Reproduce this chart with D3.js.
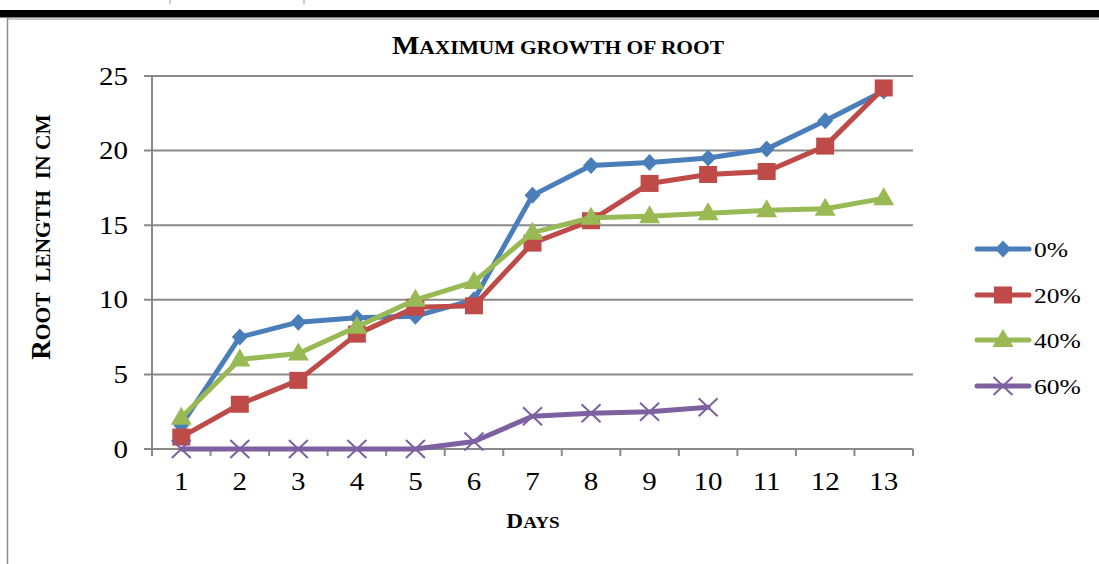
<!DOCTYPE html>
<html>
<head>
<meta charset="utf-8">
<script src="https://cdn.jsdelivr.net/npm/d3@7/dist/d3.min.js"></script>
<style>
  html, body { margin: 0; padding: 0; background: #fff; }
  svg { display: block; }
  text { font-family: "Liberation Serif", "Times New Roman", serif; fill: #000; white-space: pre; }
</style>
</head>
<body>
<svg id="chart" width="1099" height="564"></svg>
<script>
// Root length (cm) per day for each treatment level
const days = [1, 2, 3, 4, 5, 6, 7, 8, 9, 10, 11, 12, 13];
const seriesNames = ["0%", "20%", "40%", "60%"];
const values0 = [1.6, 7.5, 8.5, 8.8, 8.9, 10.0, 17.0, 19.0, 19.2, 19.5, 20.1, 22.0, 24.0];
const values20 = [0.8, 3.0, 4.6, 7.7, 9.5, 9.6, 13.8, 15.3, 17.8, 18.4, 18.6, 20.3, 24.2];
const values40 = [2.1, 6.0, 6.4, 8.2, 10.0, 11.2, 14.5, 15.5, 15.6, 15.8, 16.0, 16.1, 16.8];
const values60 = [0, 0, 0, 0, 0, 0.5, 2.2, 2.4, 2.5, 2.8, null, null, null];
const yTicks = [0, 5, 10, 15, 20, 25];

const lineColors = ["#4a7ebb", "#be4b48", "#98b954", "#7d60a0"];
const markerShapes = ["diamond", "square", "triangle", "cross"];
const allValues = [values0, values20, values40, values60];

const svg = d3.select("#chart");
const sx = 1.16; // horizontal text stretch

const x = d3.scaleBand().domain(days).range([152, 913]);
const y = d3.scaleLinear().domain([0, 25]).range([449, 76]);
const gridColor = "#898989";

// page decorations: header rule and chart frame
svg.append("rect").attr("x", 0).attr("y", 10).attr("width", 1099).attr("height", 7.5).attr("fill", "#000");
svg.append("line").attr("x1", 7.5).attr("x2", 7.5).attr("y1", 18).attr("y2", 564)
  .attr("stroke", "#8c8c8c").attr("stroke-width", 1.5);
svg.append("line").attr("x1", 7).attr("x2", 1099).attr("y1", 19).attr("y2", 19)
  .attr("stroke", "#8c8c8c").attr("stroke-width", 1);
[170, 304].forEach(px => svg.append("line").attr("x1", px).attr("x2", px).attr("y1", 0).attr("y2", 4)
  .attr("stroke", "#999").attr("stroke-width", 1));

// gridlines (with tick extensions left of the axis)
svg.append("g").selectAll("line").data(yTicks).join("line")
  .attr("x1", 144).attr("x2", 913)
  .attr("y1", d => y(d)).attr("y2", d => y(d))
  .attr("stroke", gridColor).attr("stroke-width", 2);

// y axis line
svg.append("line").attr("x1", 152).attr("x2", 152).attr("y1", y(25)).attr("y2", y(0) + 1)
  .attr("stroke", gridColor).attr("stroke-width", 2);

// x axis ticks at category boundaries
const bounds = days.map(d => x(d)).concat([x(days[days.length - 1]) + x.bandwidth()]);
svg.append("g").selectAll("line").data(bounds).join("line")
  .attr("x1", d => d).attr("x2", d => d).attr("y1", 449).attr("y2", 456)
  .attr("stroke", gridColor).attr("stroke-width", 2);

// stretched text helper
function stretchedText(g, tx, ty, anchor, size, stretch, rotate) {
  return g.append("text")
    .attr("transform", `translate(${tx},${ty}) scale(${stretch},1)` + (rotate ? ` rotate(${rotate})` : ""))
    .attr("text-anchor", anchor)
    .style("font-size", size + "px");
}

// y tick labels
yTicks.forEach(v => {
  stretchedText(svg, 128, y(v) + 8.5, "end", 25, sx).text(v);
});
// x tick labels
days.forEach(d => {
  stretchedText(svg, x(d) + x.bandwidth() / 2, 490, "middle", 25, sx).text(d);
});

// titles in small capitals
const title = stretchedText(svg, 558, 54, "middle", 25, sx).style("font-weight", "bold");
title.append("tspan").style("font-size", "25px").text("M");
title.append("tspan").style("font-size", "18.5px").text("AXIMUM GROWTH OF ROOT");

const yLabel = stretchedText(svg, 50, 237, "middle", 27, 1, -90).style("font-weight", "bold");
yLabel.append("tspan").style("font-size", "27px").text("R");
yLabel.append("tspan").style("font-size", "21.5px").text("OOT  LENGTH  IN CM");

const xLabel = stretchedText(svg, 533, 528, "middle", 20, sx).style("font-weight", "bold");
xLabel.append("tspan").style("font-size", "20px").text("D");
xLabel.append("tspan").style("font-size", "16.5px").text("AYS");

// marker drawing
function drawMarker(g, shape, cx, cy, color) {
  if (shape === "diamond") {
    g.append("path").attr("d", `M${cx},${cy - 8.5} L${cx + 8},${cy} L${cx},${cy + 8.5} L${cx - 8},${cy} Z`)
      .attr("fill", color);
  } else if (shape === "square") {
    g.append("rect").attr("x", cx - 9).attr("y", cy - 8.5).attr("width", 18).attr("height", 17)
      .attr("fill", color);
  } else if (shape === "triangle") {
    g.append("path").attr("d", `M${cx},${cy - 11} L${cx + 10.5},${cy + 7} L${cx - 10.5},${cy + 7} Z`)
      .attr("fill", color);
  } else {
    g.append("path").attr("d", `M${cx - 9.5},${cy - 9} L${cx + 9.5},${cy + 9} M${cx - 9.5},${cy + 9} L${cx + 9.5},${cy - 9}`)
      .attr("stroke", color).attr("stroke-width", 2).attr("fill", "none");
  }
}

const line = d3.line()
  .defined(d => d.v !== null)
  .x(d => x(d.day) + x.bandwidth() / 2)
  .y(d => y(d.v));

allValues.forEach((vals, i) => {
  const pts = days.map((day, j) => ({ day, v: vals[j] }));
  const g = svg.append("g");
  g.append("path").datum(pts).attr("d", line)
    .attr("fill", "none").attr("stroke", lineColors[i]).attr("stroke-width", 5)
    .attr("stroke-linejoin", "round").attr("stroke-linecap", "round");
  pts.filter(p => p.v !== null).forEach(p => {
    drawMarker(g, markerShapes[i], x(p.day) + x.bandwidth() / 2, y(p.v), lineColors[i]);
  });
});

// legend
const legendY = [249, 295, 340, 386];
seriesNames.forEach((name, i) => {
  const g = svg.append("g");
  g.append("line").attr("x1", 977).attr("x2", 1029).attr("y1", legendY[i]).attr("y2", legendY[i])
    .attr("stroke", lineColors[i]).attr("stroke-width", 5).attr("stroke-linecap", "round");
  drawMarker(g, markerShapes[i], 1003, legendY[i], lineColors[i]);
  stretchedText(g, 1034, legendY[i] + 7.5, "start", 22, sx).text(name);
});
</script>
</body>
</html>
